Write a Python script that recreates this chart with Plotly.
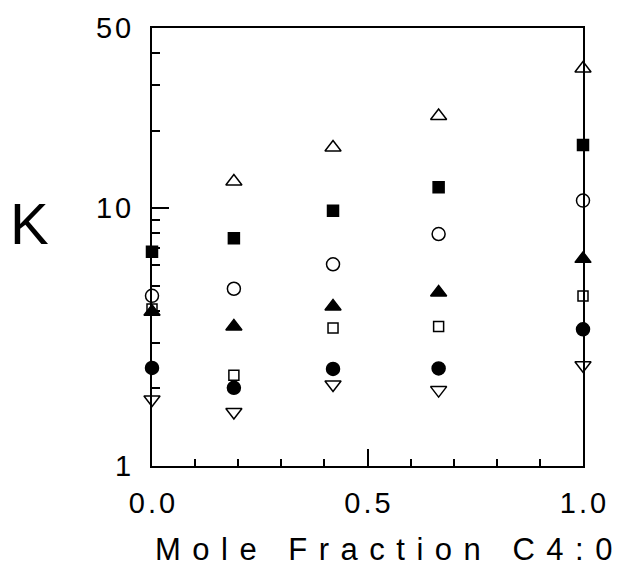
import plotly.graph_objects as go

# Data
x_all = [0.0, 0.19, 0.42, 0.665, 1.0]
x_tri_up = [0.19, 0.42, 0.665, 1.0]
k_open_tri_up = [12.7, 17.2, 22.8, 34.8]
k_filled_sq = [6.78, 7.65, 9.77, 12.07, 17.6]
k_open_circle = [4.57, 4.87, 6.06, 7.94, 10.7]
k_filled_tri = [3.97, 3.48, 4.16, 4.71, 6.36]
k_open_sq = [4.06, 2.25, 3.43, 3.48, 4.56]
k_filled_circle = [2.40, 2.01, 2.38, 2.39, 3.39]
k_open_tri_down = [1.81, 1.62, 2.07, 1.97, 2.46]

x_tickvals = [0.0, 0.5, 1.0]
x_ticktext = ["0.0", "0.5", "1.0"]
y_tickvals = [1, 10, 50]
y_ticktext = ["1", "10", "50"]
x_minor = [0.1, 0.2, 0.3, 0.4, 0.6, 0.7, 0.8, 0.9]
y_minor = [2, 3, 4, 5, 6, 7, 8, 9, 20, 30, 40]

FONT = "Liberation Sans"

def sp(t, px):
    # letter-spacing on all but the last character (no trailing gap)
    if len(t) < 2:
        return t
    return f'<span style="letter-spacing:{px}px">{t[:-1]}</span>{t[-1]}'

fig = go.Figure()

series = [
    (x_tri_up, k_open_tri_up, "triangle-up-open", 14),
    (x_all, k_filled_sq, "square", 11),
    (x_all, k_open_circle, "circle-open", 13),
    (x_all, k_filled_tri, "triangle-up", 14),
    (x_all, k_open_sq, "square-open", 10),
    (x_all, k_filled_circle, "circle", 13),
    (x_all, k_open_tri_down, "triangle-down-open", 14),
]
for xs, ys, sym, size in series:
    fig.add_trace(go.Scatter(
        x=xs, y=ys, mode="markers", cliponaxis=False, showlegend=False,
        marker=dict(symbol=sym, size=size, color="black",
                    line=dict(color="black", width=1.5)),
    ))

fig.update_layout(
    width=618, height=581,
    margin=dict(l=152, r=27, t=25, b=115),
    paper_bgcolor="white", plot_bgcolor="white",
    font=dict(family=FONT, color="black", size=29),
    xaxis=dict(
        range=[0, 1], showgrid=False, zeroline=False,
        showline=True, linecolor="black", linewidth=2, mirror=True,
        ticks="inside", ticklen=17, tickwidth=1.5, tickcolor="black",
        tickvals=x_tickvals, ticktext=[sp(t, 3) for t in x_ticktext],
        tickfont=dict(family=FONT, size=29), ticklabelstandoff=10,
        minor=dict(tickvals=x_minor, ticks="inside", ticklen=7,
                   tickwidth=1.5, tickcolor="black", showgrid=False),
    ),
    yaxis=dict(
        type="log", range=[0, 1.69897], showgrid=False, zeroline=False,
        showline=True, linecolor="black", linewidth=2, mirror=True,
        ticks="inside", ticklen=17, tickwidth=1.5, tickcolor="black",
        tickvals=y_tickvals, ticktext=[sp(t, 3) for t in y_ticktext],
        tickfont=dict(family=FONT, size=29), ticklabelstandoff=13,
        minor=dict(tickvals=y_minor, ticks="inside", ticklen=8,
                   tickwidth=1.5, tickcolor="black", showgrid=False),
    ),
    annotations=[
        dict(text="K", xref="paper", yref="paper", x=-0.285, y=0.553,
             showarrow=False, font=dict(family=FONT, size=58, color="black"),
             xanchor="center", yanchor="middle"),
        dict(text=sp("Mole Fraction C4:0", 11.5), xref="paper", yref="paper",
             x=0.537, y=-0.19, showarrow=False,
             font=dict(family=FONT, size=31, color="black"),
             xanchor="center", yanchor="middle"),
    ],
)

fig.write_html("out.html")
